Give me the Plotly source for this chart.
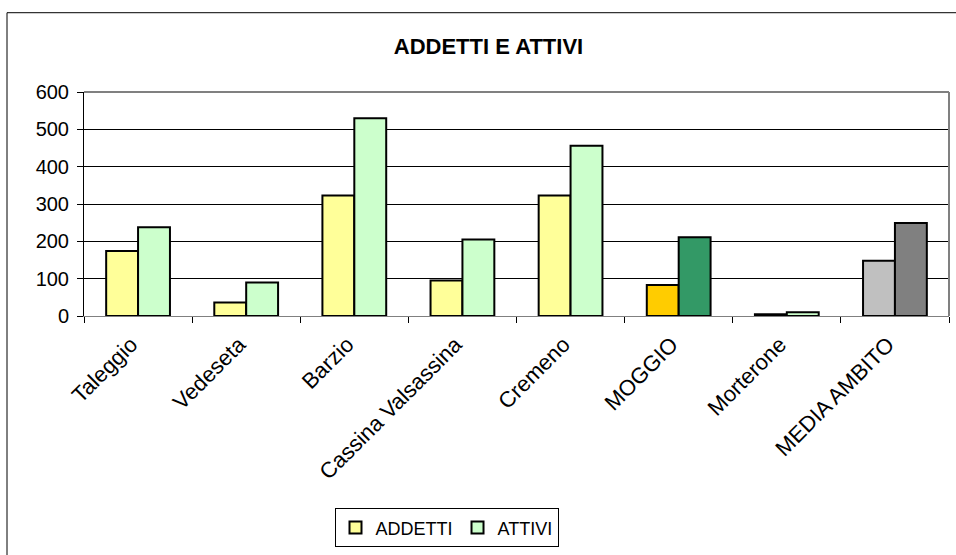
import plotly.graph_objects as go

categories = ["Taleggio", "Vedeseta", "Barzio", "Cassina Valsassina", "Cremeno",
              "MOGGIO", "Morterone", "MEDIA AMBITO"]
addetti = [174, 36, 323, 95, 323, 83, 5, 148]
attivi = [238, 90, 530, 205, 456, 211, 10, 249]
y_ticks = [0, 100, 200, 300, 400, 500, 600]

addetti_colors = ["#FFFF99"] * 5 + ["#FFCC00", "#FFFF99", "#C0C0C0"]
attivi_colors = ["#CCFFCC"] * 5 + ["#339966", "#CCFFCC", "#808080"]

W, H = 956, 555
L, R, T, B = 84, 949, 92, 318
pw, ph = R - L, B - T

def px(x):
    return (x - L) / pw

def py(y):
    return (B - y) / ph

fig = go.Figure()
fig.add_trace(go.Bar(x=categories, y=addetti, name="ADDETTI",
                     marker=dict(color=addetti_colors, line=dict(color="black", width=2))))
fig.add_trace(go.Bar(x=categories, y=attivi, name="ATTIVI",
                     marker=dict(color=attivi_colors, line=dict(color="black", width=2))))

font = "Liberation Sans, Arial, sans-serif"
fig.update_layout(
    width=W, height=H,
    margin=dict(l=L, r=W - R, t=T, b=H - B, pad=0),
    paper_bgcolor="white", plot_bgcolor="white",
    barmode="group", bargap=0.41, bargroupgap=0,
    font=dict(family=font, size=19, color="black"),
    title=dict(text="<b>ADDETTI E ATTIVI</b>", xref="container", x=488.5 / W, xanchor="center",
               yref="container", y=1 - 46 / H, yanchor="middle", font=dict(size=22, family=font)),
    showlegend=True,
    legend=dict(orientation="h", x=px(446.5), xanchor="center", y=py(512), yanchor="top",
                bordercolor="black", borderwidth=1, bgcolor="white",
                font=dict(size=18), itemwidth=30, traceorder="normal"),
    xaxis=dict(type="category", tickangle=-45, ticks="outside", ticklen=6, tickcolor="black",
               tickson="boundaries", showline=True, linecolor="#808080", linewidth=1,
               mirror=False, showgrid=False, tickfont=dict(size=22), automargin=False,
               ticklabelshift=-7, ticklabelstandoff=6),
    yaxis=dict(range=[0, 600], tickvals=y_ticks, ticks="outside", ticklen=6, tickcolor="black",
               showline=True, linecolor="black", linewidth=1, showgrid=True,
               gridcolor="black", gridwidth=1, zeroline=False, tickfont=dict(size=20),
               automargin=False, ticklabelstandoff=4),
)

# plot-area border (top and right, grey)
fig.add_shape(type="line", xref="paper", yref="paper", x0=0, x1=1, y0=1, y1=1,
              line=dict(color="#808080", width=2))
fig.add_shape(type="line", xref="paper", yref="paper", x0=1, x1=1, y0=0, y1=1,
              line=dict(color="#808080", width=2))
# outer chart border
fig.add_shape(type="rect", xref="paper", yref="paper", x0=px(7), x1=px(970),
              y0=py(570), y1=py(12), line=dict(color="black", width=1), layer="below")

fig.write_html("out.html")
